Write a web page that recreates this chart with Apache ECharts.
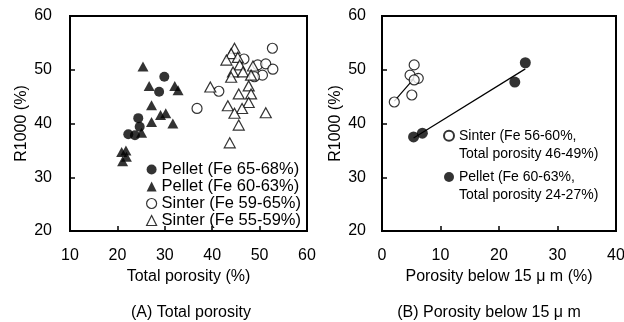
<!DOCTYPE html>
<html>
<head>
<meta charset="utf-8">
<script src="https://cdn.jsdelivr.net/npm/echarts@6/dist/echarts.min.js"></script>
<style>
  html,body{margin:0;padding:0;background:#fff;}
  #main{width:624px;height:322px;}
</style>
</head>
<body>
<div id="main"></div>
<script>
// (A) R1000 vs total porosity
const pelletHighFe = [[29.9,48.7],[28.8,45.9],[24.4,41.0],[22.3,38.0],[23.7,37.8],[24.7,39.4]];
const pelletLowFe = [[25.4,50.6],[26.7,47.0],[32.1,47.0],[32.8,46.2],[27.2,43.4],[29.1,41.6],[30.2,41.9],
  [31.7,40.0],[27.2,40.3],[25.1,38.3],[20.9,34.7],[21.8,35.0],[21.9,33.8],[21.1,33.0]];
const sinterHighFe = [[52.7,54.0],[46.7,52.0],[49.6,50.9],[51.3,51.1],[52.8,50.1],[50.6,49.0],[48.9,48.7],
  [41.4,46.0],[36.8,42.8]];
const sinterLowFe = [[44.7,54.0],[44.0,53.0],[43.0,51.8],[45.4,52.3],[45.8,50.9],[44.4,49.6],[44.0,48.6],
  [46.5,49.6],[48.6,50.7],[48.2,49.0],[47.7,47.0],[39.6,46.8],[45.6,45.5],[48.2,45.5],[43.3,43.3],
  [47.7,43.9],[46.3,42.8],[44.7,41.9],[51.3,42.0],[45.6,39.7],[43.7,36.4]];

// (B) R1000 vs porosity below 15um
const sinterFine = [[5.5,50.9],[4.8,49.0],[6.2,48.4],[5.5,48.1],[5.1,45.3],[2.1,44.0]];
const pelletFine = [[24.5,51.3],[22.7,47.7],[5.4,37.5],[6.9,38.2]];

const namesA = ['Pellet (Fe 65-68%)','Pellet (Fe 60-63%)','Sinter (Fe 59-65%)','Sinter (Fe 55-59%)'];
const namesB = ['Sinter (Fe 56-60%,\nTotal porosity 46-49%)','Pellet (Fe 60-63%,\nTotal porosity 24-27%)'];

// least squares line over the points, from min x to max x
function fitLine(pts){
  const n = pts.length;
  let sx=0, sy=0;
  pts.forEach(p=>{sx+=p[0]; sy+=p[1];});
  const mx=sx/n, my=sy/n;
  let sxx=0, sxy=0;
  pts.forEach(p=>{sxx+=(p[0]-mx)*(p[0]-mx); sxy+=(p[0]-mx)*(p[1]-my);});
  const k=sxy/sxx;
  const xs=pts.map(p=>p[0]);
  const x0=Math.min(...xs), x1=Math.max(...xs);
  return [[x0,my+k*(x0-mx)],[x1,my+k*(x1-mx)]];
}

const FONT = 'Liberation Sans';
const txt = {color:'#000', fontFamily:FONT, fontSize:16};

const filled = {color:'#000'};
const hollow = {color:'#fff', borderColor:'#000', borderWidth:1.2};

function xAxisOf(idx,min,max,name){
  return {
    gridIndex:idx, type:'value', min:min, max:max, interval:10,
    name:name, nameLocation:'middle', nameGap:36, nameTextStyle:txt,
    axisLine:{show:true, lineStyle:{color:'#000',width:2}},
    axisTick:{show:true, inside:true, length:5, lineStyle:{color:'#000',width:1.5}},
    axisLabel:Object.assign({margin:17},txt),
    splitLine:{show:false}
  };
}
function yAxisOf(idx,margin,gap){
  return {
    gridIndex:idx, type:'value', min:20, max:60, interval:10,
    name:'R1000 (%)', nameLocation:'middle', nameGap:gap, nameTextStyle:txt,
    axisLine:{show:true, lineStyle:{color:'#000',width:2}},
    axisTick:{show:true, inside:true, length:5, lineStyle:{color:'#000',width:1.5}},
    axisLabel:Object.assign({margin:margin},txt),
    splitLine:{show:false}
  };
}

const chart = echarts.init(document.getElementById('main'));
const option = {
  animation:false,
  title:[
    {text:'(A) Total porosity', left:186, top:300, textAlign:'center', textStyle:Object.assign({fontWeight:'normal'},txt)},
    {text:'(B) Porosity below 15 \u03bc m', left:484, top:300, textAlign:'center', textStyle:Object.assign({fontWeight:'normal'},txt)}
  ],
  // fixed boxes: the "40" label is allowed to run past the right edge
  grid:[
    {left:70, top:16, width:237, height:215, outerBoundsMode:'none', show:true, borderColor:'#000', borderWidth:2},
    {left:382, top:16, width:234, height:215, outerBoundsMode:'none', show:true, borderColor:'#000', borderWidth:2}
  ],
  xAxis:[
    xAxisOf(0,10,60,'Total porosity (%)'),
    xAxisOf(1,0,40,'Porosity below 15 \u03bc m (%)')
  ],
  yAxis:[yAxisOf(0,18,40), yAxisOf(1,16,38)],
  legend:[
    {
      data:namesA, orient:'vertical', left:146, top:161, itemGap:0, padding:0,
      itemWidth:10, itemHeight:10, itemStyle:{borderWidth:1.2},
      textStyle:Object.assign({}, txt, {fontSize:16.5, lineHeight:16.7})
    },
    {
      // blank first line so the marker sits on the first text line
      data:namesB, orient:'vertical', left:443, top:108, itemGap:-14.25, padding:0,
      itemWidth:10, itemHeight:10, selectedMode:false,
      formatter:function(name){ return '\n' + name; },
      textStyle:Object.assign({}, txt, {fontSize:14, lineHeight:18.5})
    }
  ],
  series:[
    {name:namesA[2], type:'scatter', xAxisIndex:0, yAxisIndex:0, symbol:'circle', symbolSize:10, itemStyle:hollow, data:sinterHighFe},
    {name:namesA[3], type:'scatter', xAxisIndex:0, yAxisIndex:0, symbol:'triangle', symbolSize:[11,10], itemStyle:hollow, data:sinterLowFe},
    {name:namesA[1], type:'scatter', xAxisIndex:0, yAxisIndex:0, symbol:'triangle', symbolSize:[11,10], itemStyle:filled, data:pelletLowFe},
    {name:namesA[0], type:'scatter', xAxisIndex:0, yAxisIndex:0, symbol:'circle', symbolSize:10, itemStyle:filled, data:pelletHighFe},

    // fit lines in (B)
    {type:'line', xAxisIndex:1, yAxisIndex:1, symbol:'none', lineStyle:{color:'#000',width:1.2}, data:fitLine(sinterFine), z:1},
    {type:'line', xAxisIndex:1, yAxisIndex:1, symbol:'none', lineStyle:{color:'#000',width:1.2}, data:fitLine(pelletFine), z:1},
    {name:namesB[0], type:'scatter', xAxisIndex:1, yAxisIndex:1, symbol:'circle', symbolSize:10, itemStyle:hollow, data:sinterFine, z:3},
    {name:namesB[1], type:'scatter', xAxisIndex:1, yAxisIndex:1, symbol:'circle', symbolSize:11, itemStyle:filled, data:pelletFine, z:3}
  ]
};
chart.setOption(option);
</script>
</body>
</html>
